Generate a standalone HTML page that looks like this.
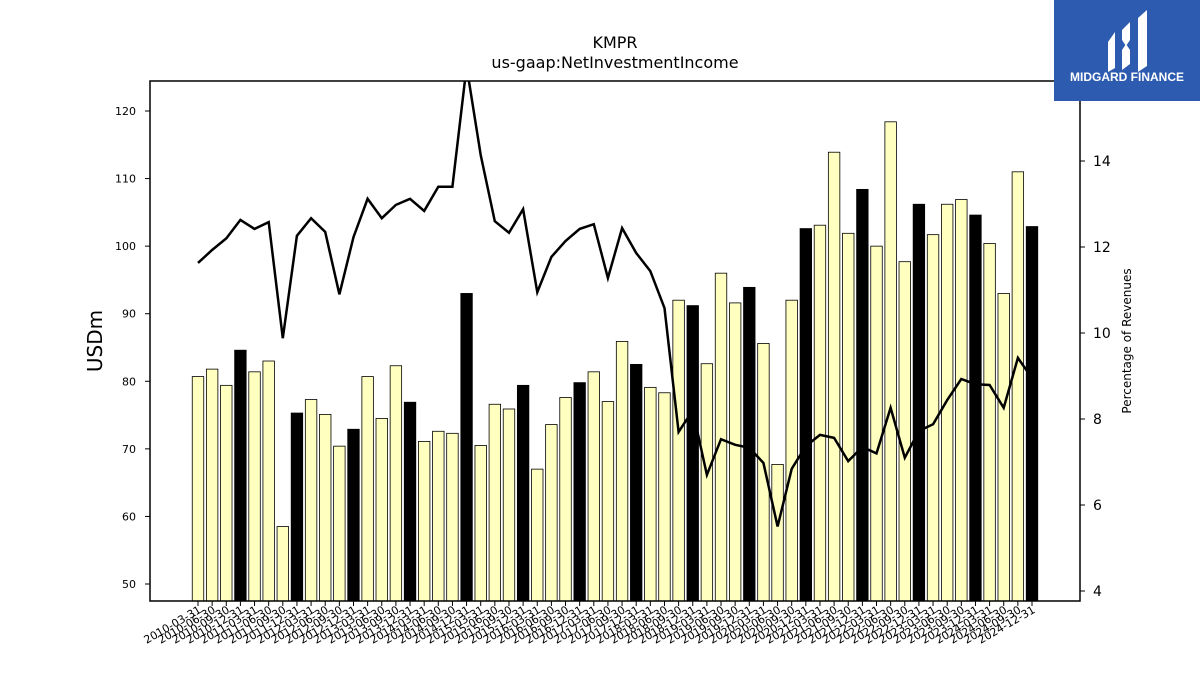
<!DOCTYPE html>
<html><head><meta charset="utf-8"><style>
body{margin:0;background:#fff;width:1200px;height:675px;overflow:hidden;font-family:"Liberation Sans","DejaVu Sans",sans-serif}
</style></head><body>
<svg id="chart" width="1200" height="675" xmlns="http://www.w3.org/2000/svg" font-family="DejaVu Sans, Liberation Sans, sans-serif">
<text x="615" y="48" text-anchor="middle" font-size="16">KMPR</text>
<text x="615" y="68" text-anchor="middle" font-size="16">us-gaap:NetInvestmentIncome</text>
<g id="bars"></g>
<g id="xt"></g>
<g id="yl"></g>
<g id="yr"></g>
<clipPath id="cp"><rect x="150" y="81" width="930" height="520"/></clipPath>
<path id="line" fill="none" stroke="#000" stroke-width="2.5" clip-path="url(#cp)"/>
<rect x="150" y="81" width="930" height="520" fill="none" stroke="#000" stroke-width="1.5"/>
<text transform="translate(102,341) rotate(-90)" text-anchor="middle" font-size="20">USDm</text>
<text transform="translate(1131,341) rotate(-90)" text-anchor="middle" font-size="12">Percentage of Revenues</text>
<g>
<rect x="1054" y="0" width="146" height="101" fill="#2d5bb0"/>
<path d="M1108 42 L1115 32 L1115 68 L1108 72 Z M1122 30 L1130 22 L1130 40 L1126 46 L1122 40 Z M1122 50 L1126 44 L1130 50 L1130 64 L1122 70 Z M1138 18 L1147 10 L1147 66 L1138 72 Z" fill="#fff"/>
<text x="1127" y="81" text-anchor="middle" font-size="12" font-weight="bold" fill="#fff" font-family="Liberation Sans, sans-serif">MIDGARD FINANCE</text>
</g>
</svg>
<script>
const values=[80.7,81.8,79.4,84.6,81.4,83,58.5,75.3,77.3,75.1,70.4,72.9,80.7,74.5,82.3,76.9,71.1,72.6,72.3,93,70.5,76.6,75.9,79.4,67,73.6,77.6,79.8,81.4,77,85.9,82.5,79.1,78.3,92,91.2,82.6,96,91.6,93.9,85.6,67.7,92,102.6,103.1,113.9,101.9,108.4,100,118.4,97.7,106.2,101.7,106.2,106.9,104.6,100.4,93,111,102.9];
const pct=[11.63,11.93,12.2,12.63,12.42,12.58,9.88,12.26,12.67,12.35,10.9,12.23,13.12,12.67,12.98,13.12,12.84,13.4,13.4,16.2,14.14,12.6,12.33,12.88,10.95,11.77,12.14,12.42,12.53,11.28,12.44,11.86,11.44,10.58,7.7,8.2,6.7,7.53,7.4,7.33,6.98,5.5,6.84,7.37,7.63,7.56,7.02,7.35,7.2,8.26,7.1,7.72,7.88,8.44,8.93,8.81,8.79,8.26,9.42,8.95];
const leftTicks=[50,60,70,80,90,100,110,120];
const rightTicks=[4,6,8,10,12,14];
const categories=[];
for(let y=2010;y<=2024;y++)for(const q of["03-31","06-30","09-30","12-31"])categories.push(y+"-"+q);
const NS="http://www.w3.org/2000/svg";
const x=i=>198+i*(1032-198)/(categories.length-1);
const yL=v=>584-(v-50)*(584-111)/70;
const yR=v=>591-(v-4)*(591-161)/10;
const bw=11.5;
function mk(t,a,p){const e=document.createElementNS(NS,t);for(const k in a)e.setAttribute(k,a[k]);p.appendChild(e);return e;}
const bars=document.getElementById('bars');
values.forEach((v,i)=>{
 const q4=categories[i].endsWith("12-31");
 const r=mk('rect',{x:x(i)-bw/2,y:yL(v),width:bw,height:601-yL(v),fill:q4?'#000':'#ffffc0',stroke:'#000','stroke-width':0.8},bars);
 
 
});
const xt=document.getElementById('xt');
categories.forEach((c,i)=>{
 mk('line',{x1:x(i),x2:x(i),y1:601,y2:606,stroke:'#000','stroke-width':1},xt);
 const t=mk('text',{transform:`translate(${x(i)+4},${612}) rotate(-30)`,'text-anchor':'end','font-size':11},xt);
 t.textContent=c;
 
 
});
const yl=document.getElementById('yl');
leftTicks.forEach(v=>{
 mk('line',{x1:145,x2:150,y1:yL(v),y2:yL(v),stroke:'#000'},yl);
 const t=mk('text',{x:136,y:yL(v)+4,'text-anchor':'end','font-size':11},yl);
 t.textContent=v;
 
 
});
const yr=document.getElementById('yr');
rightTicks.forEach(v=>{
 mk('line',{x1:1080,x2:1085,y1:yR(v),y2:yR(v),stroke:'#000'},yr);
 const t=mk('text',{x:1093,y:yR(v)+5,'font-size':14},yr);
 t.textContent=v;
 
 
});
document.getElementById('line').setAttribute('d',pct.map((v,i)=>(i?'L':'M')+x(i).toFixed(1)+' '+yR(v).toFixed(1)).join(' '));
</script>
</body></html>
